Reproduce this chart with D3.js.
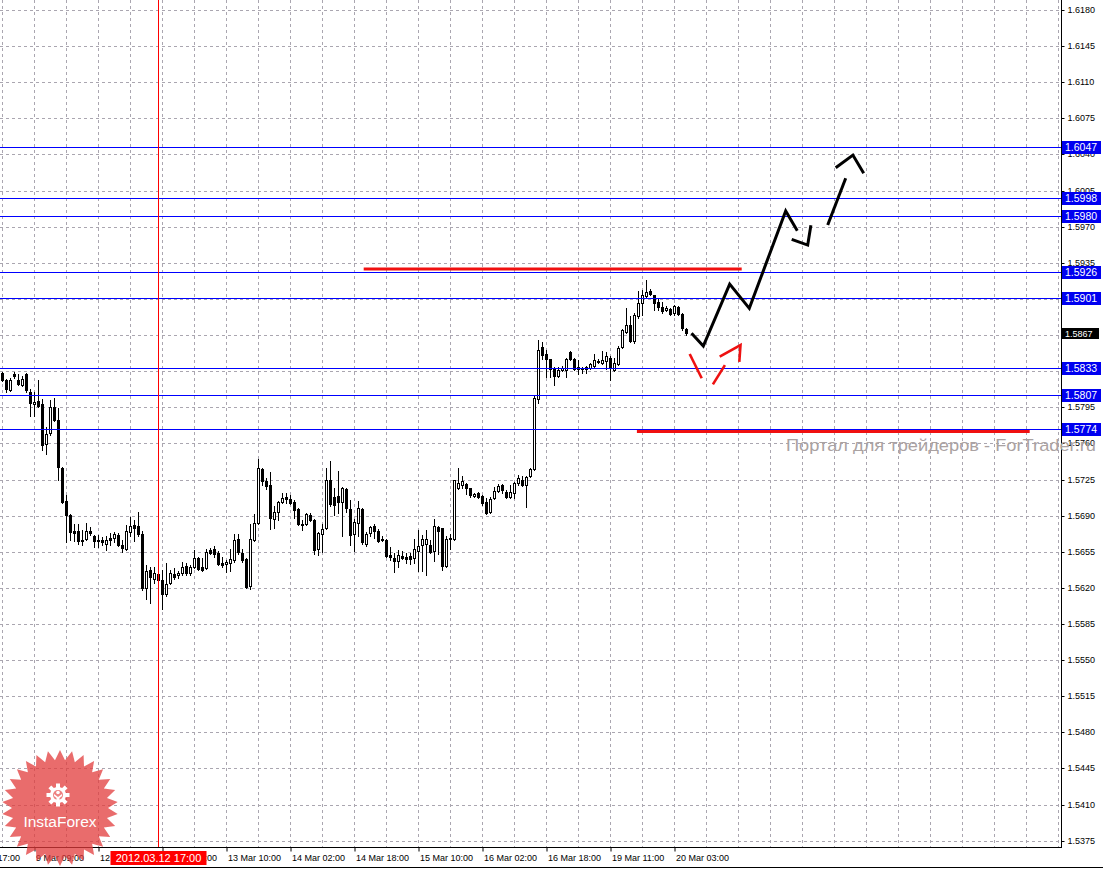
<!DOCTYPE html>
<html><head><meta charset="utf-8">
<script src="https://cdn.jsdelivr.net/npm/d3@7"></script>
<style>body{margin:0;background:#fff;overflow:hidden}svg{display:block;font-family:"Liberation Sans",Arial,sans-serif}</style>
</head><body><svg id="c" width="1103" height="870"></svg>
<script>
// ---- DATA (GBPUSD H1, bar index 1..172) ----
const open = [1.5828,1.5821,1.5812,1.5827,1.5821,1.5817,1.5827,1.5810,1.5798,1.5801,1.5798,1.5759,1.5770,1.5795,1.5783,1.5736,1.5704,1.5691,1.5675,1.5675,1.5665,1.5667,1.5675,1.5670,1.5666,1.5666,1.5663,1.5668,1.5668,1.5671,1.5662,1.5658,1.5674,1.5681,1.5680,1.5672,1.5620,1.5637,1.5629,1.5633,1.5628,1.5614,1.5625,1.5633,1.5632,1.5634,1.5641,1.5634,1.5640,1.5649,1.5640,1.5639,1.5657,1.5658,1.5654,1.5644,1.5643,1.5644,1.5647,1.5667,1.5654,1.5648,1.5622,1.5666,1.5683,1.5735,1.5724,1.5720,1.5687,1.5694,1.5703,1.5708,1.5706,1.5703,1.5696,1.5682,1.5682,1.5691,1.5686,1.5658,1.5672,1.5678,1.5725,1.5708,1.5709,1.5703,1.5716,1.5696,1.5672,1.5683,1.5696,1.5663,1.5673,1.5680,1.5675,1.5667,1.5666,1.5652,1.5649,1.5646,1.5651,1.5650,1.5651,1.5649,1.5656,1.5662,1.5663,1.5662,1.5656,1.5679,1.5678,1.5641,1.5668,1.5667,1.5717,1.5720,1.5721,1.5717,1.5709,1.5712,1.5709,1.5703,1.5694,1.5707,1.5714,1.5720,1.5713,1.5708,1.5712,1.5722,1.5725,1.5720,1.5728,1.5735,1.5803,1.5853,1.5847,1.5842,1.5832,1.5825,1.5831,1.5831,1.5849,1.5842,1.5834,1.5833,1.5832,1.5833,1.5835,1.5839,1.5838,1.5840,1.5843,1.5831,1.5837,1.5853,1.5868,1.5875,1.5859,1.5883,1.5896,1.5903,1.5908,1.5904,1.5897,1.5892,1.5889,1.5890,1.5886,1.5892,1.5885,1.5871];
const high = [1.5829,1.5822,1.5823,1.5829,1.5827,1.5825,1.5828,1.5813,1.5810,1.5821,1.5803,1.5776,1.5802,1.5804,1.5794,1.5737,1.5710,1.5692,1.5682,1.5682,1.5676,1.5683,1.5679,1.5671,1.5671,1.5669,1.5670,1.5673,1.5674,1.5673,1.5666,1.5681,1.5689,1.5686,1.5694,1.5675,1.5642,1.5640,1.5640,1.5635,1.5637,1.5644,1.5637,1.5639,1.5636,1.5645,1.5644,1.5642,1.5657,1.5650,1.5649,1.5658,1.5659,1.5661,1.5656,1.5650,1.5647,1.5658,1.5672,1.5672,1.5658,1.5649,1.5682,1.5692,1.5745,1.5736,1.5726,1.5732,1.5699,1.5704,1.5712,1.5712,1.5710,1.5705,1.5697,1.5686,1.5693,1.5693,1.5687,1.5674,1.5682,1.5736,1.5743,1.5717,1.5733,1.5718,1.5717,1.5705,1.5687,1.5704,1.5697,1.5674,1.5680,1.5682,1.5677,1.5670,1.5667,1.5660,1.5654,1.5657,1.5656,1.5654,1.5654,1.5667,1.5676,1.5671,1.5676,1.5666,1.5687,1.5680,1.5678,1.5670,1.5672,1.5725,1.5736,1.5728,1.5722,1.5717,1.5712,1.5713,1.5710,1.5707,1.5708,1.5718,1.5721,1.5721,1.5715,1.5720,1.5723,1.5729,1.5728,1.5728,1.5736,1.5807,1.5860,1.5858,1.5851,1.5842,1.5834,1.5834,1.5835,1.5843,1.5850,1.5843,1.5841,1.5834,1.5835,1.5838,1.5847,1.5842,1.5850,1.5849,1.5845,1.5843,1.5854,1.5871,1.5891,1.5883,1.5886,1.5908,1.5909,1.5918,1.5910,1.5904,1.5901,1.5897,1.5893,1.5891,1.5894,1.5893,1.5886,1.5872];
const low = [1.5820,1.5810,1.5811,1.5823,1.5817,1.5816,1.5810,1.5787,1.5787,1.5795,1.5754,1.5750,1.5768,1.5782,1.5725,1.5702,1.5664,1.5666,1.5665,1.5663,1.5662,1.5666,1.5671,1.5660,1.5660,1.5662,1.5657,1.5662,1.5664,1.5661,1.5655,1.5657,1.5670,1.5665,1.5670,1.5618,1.5609,1.5605,1.5625,1.5627,1.5600,1.5612,1.5624,1.5629,1.5630,1.5632,1.5632,1.5632,1.5639,1.5637,1.5636,1.5638,1.5653,1.5650,1.5642,1.5640,1.5635,1.5636,1.5645,1.5653,1.5645,1.5620,1.5619,1.5665,1.5682,1.5720,1.5716,1.5677,1.5678,1.5686,1.5702,1.5702,1.5701,1.5688,1.5681,1.5676,1.5681,1.5685,1.5653,1.5652,1.5655,1.5677,1.5699,1.5691,1.5693,1.5670,1.5694,1.5662,1.5656,1.5670,1.5663,1.5661,1.5670,1.5668,1.5664,1.5665,1.5650,1.5647,1.5635,1.5640,1.5648,1.5644,1.5643,1.5644,1.5636,1.5636,1.5632,1.5654,1.5646,1.5653,1.5637,1.5640,1.5658,1.5666,1.5716,1.5717,1.5711,1.5708,1.5708,1.5707,1.5700,1.5692,1.5693,1.5706,1.5713,1.5712,1.5707,1.5707,1.5707,1.5720,1.5719,1.5698,1.5727,1.5734,1.5799,1.5842,1.5824,1.5824,1.5817,1.5824,1.5830,1.5824,1.5841,1.5831,1.5827,1.5828,1.5828,1.5832,1.5834,1.5838,1.5837,1.5832,1.5821,1.5830,1.5836,1.5852,1.5867,1.5858,1.5857,1.5882,1.5884,1.5902,1.5904,1.5889,1.5889,1.5886,1.5888,1.5884,1.5884,1.5884,1.5870,1.5865];
const close = [1.5821,1.5813,1.5821,1.5825,1.5818,1.5822,1.5812,1.5799,1.5800,1.5796,1.5758,1.5769,1.5795,1.5783,1.5737,1.5703,1.5691,1.5674,1.5673,1.5665,1.5666,1.5675,1.5673,1.5665,1.5665,1.5664,1.5666,1.5666,1.5672,1.5662,1.5659,1.5675,1.5680,1.5678,1.5672,1.5620,1.5636,1.5631,1.5634,1.5628,1.5614,1.5624,1.5634,1.5631,1.5634,1.5640,1.5634,1.5640,1.5649,1.5638,1.5637,1.5655,1.5654,1.5653,1.5643,1.5642,1.5645,1.5648,1.5666,1.5655,1.5647,1.5621,1.5667,1.5683,1.5736,1.5724,1.5719,1.5688,1.5694,1.5703,1.5707,1.5706,1.5702,1.5695,1.5682,1.5681,1.5692,1.5686,1.5657,1.5673,1.5677,1.5725,1.5701,1.5700,1.5703,1.5717,1.5697,1.5671,1.5684,1.5697,1.5664,1.5672,1.5679,1.5675,1.5665,1.5666,1.5651,1.5650,1.5646,1.5652,1.5649,1.5648,1.5648,1.5658,1.5661,1.5667,1.5667,1.5655,1.5680,1.5675,1.5641,1.5667,1.5667,1.5725,1.5722,1.5724,1.5717,1.5710,1.5711,1.5708,1.5702,1.5693,1.5706,1.5714,1.5719,1.5715,1.5708,1.5713,1.5722,1.5726,1.5720,1.5727,1.5735,1.5804,1.5851,1.5846,1.5842,1.5832,1.5825,1.5831,1.5833,1.5842,1.5842,1.5832,1.5832,1.5832,1.5834,1.5837,1.5841,1.5840,1.5841,1.5845,1.5833,1.5838,1.5852,1.5870,1.5875,1.5859,1.5884,1.5896,1.5904,1.5907,1.5905,1.5896,1.5892,1.5888,1.5891,1.5885,1.5893,1.5885,1.5872,1.5867];

const priceTicks = [1.6180,1.6145,1.6110,1.6075,1.6040,1.6005,1.5970,1.5935,1.5900,1.5865,1.5830,1.5795,1.5760,1.5725,1.5690,1.5655,1.5620,1.5585,1.5550,1.5515,1.5480,1.5445,1.5410,1.5375];
const labelIndex = [-7,9,25,41,57,73,89,105,121,137,153,169];
const labelText = ["8 Mar 17:00","9 Mar 09:00","12 Mar 01:00","12 Mar 17:00","13 Mar 10:00","14 Mar 02:00","14 Mar 18:00","15 Mar 10:00","16 Mar 02:00","16 Mar 18:00","19 Mar 11:00","20 Mar 03:00"];
const levels = [1.6047,1.5998,1.5980,1.5926,1.5901,1.5833,1.5807,1.5774];
const lastPrice = 1.5867;
const cursorIndex = 40;
const cursorText = "2012.03.12 17:00";
const redLevelPrice = [1.5929, 1.57715];
const redLevelFrom = [91.3, 159.6];
const redLevelTo = [185.8, 257.8];
// forecast sketch: [bar index, price]
const blackPaths = [
  [[173.26,1.58667],[176.2,1.58544],[182.8,1.59144],[187.7,1.58909],[196.8,1.59852],[199.7,1.59661]],
  [[198.3,1.59578],[202.3,1.59522],[203.1,1.59713]],
  [[207.3,1.59716],[211.8,1.60169]],
  [[209.3,1.60271],[213.6,1.60394],[216.3,1.60217]]
];
const redPaths = [
  [[172.8,1.58466],[175.8,1.58231]],
  [[178.6,1.58172],[181.6,1.58359]],
  [[180.3,1.5844],[185.5,1.58553],[185.2,1.58391]]
];
const watermark = "Портал для трейдеров - ForTrader.ru";
const brand = "InstaForex";

// ---- CHART ----
const W = 1103, H = 870, plotR = 1061, plotB = 847;
const svg = d3.select("#c");
const x = d3.scaleLinear().domain([1, 2]).range([2.5, 6.5]);
const y = d3.scaleLinear().domain([1.5375, 1.6180]).range([840.7, 10]);
const py = v => Math.round(y(v)) + 0.5;

svg.append("rect").attr("width", W).attr("height", H).attr("fill", "#fff");
svg.append("defs").append("clipPath").attr("id", "plot")
  .append("rect").attr("x", 0).attr("y", 0).attr("width", plotR).attr("height", plotB);

const g = svg.append("g").attr("clip-path", "url(#plot)");

// grid
const gridColor = "#aaa6b0";
g.selectAll("line.hg").data(priceTicks).join("line")
  .attr("x1", 0).attr("x2", plotR).attr("y1", d => py(d)).attr("y2", d => py(d))
  .attr("stroke", gridColor).attr("stroke-dasharray", "3,3");
const vIdx = d3.range(1, 270, 8);
g.selectAll("line.vg").data(vIdx).join("line")
  .attr("x1", d => x(d)).attr("x2", d => x(d)).attr("y1", 0).attr("y2", plotB)
  .attr("stroke", gridColor).attr("stroke-dasharray", "3,3");

// candles
const bars = d3.range(open.length).map(i => ({i: i + 1, o: open[i], h: high[i], l: low[i], c: close[i]}));
const cg = g.append("g").attr("shape-rendering", "crispEdges");
bars.forEach(b => {
  const xc = x(b.i);
  cg.append("line").attr("x1", xc).attr("x2", xc)
    .attr("y1", Math.round(y(b.h))).attr("y2", Math.round(y(b.l)) + 1)
    .attr("stroke", "#000");
  const top = Math.round(y(Math.max(b.o, b.c)));
  const bot = Math.round(y(Math.min(b.o, b.c)));
  const bull = b.c >= b.o;
  if (!bull || bot - top < 2) {
    cg.append("rect").attr("x", xc - 1.5).attr("y", top).attr("width", 3)
      .attr("height", Math.max(1, bot - top + 1)).attr("fill", "#000");
  } else {
    cg.append("rect").attr("x", xc - 1).attr("y", top + 0.5).attr("width", 2)
      .attr("height", bot - top).attr("fill", "#fff").attr("stroke", "#000");
  }
});

// horizontal levels
g.selectAll("line.lev").data(levels).join("line")
  .attr("x1", 0).attr("x2", plotR).attr("y1", d => py(d)).attr("y2", d => py(d))
  .attr("stroke", "#0000ff");

// cursor vertical line
g.append("line").attr("x1", x(cursorIndex)).attr("x2", x(cursorIndex))
  .attr("y1", 0).attr("y2", plotB).attr("stroke", "#ff0000");

// red horizontal segments
redLevelPrice.forEach((p, k) => {
  g.append("line").attr("x1", x(redLevelFrom[k])).attr("x2", x(redLevelTo[k]))
    .attr("y1", y(p)).attr("y2", y(p)).attr("stroke", "#f01010").attr("stroke-width", 3);
});

// forecast sketches
const ln = d3.line().x(d => x(d[0])).y(d => y(d[1]));
g.selectAll("path.bp").data(blackPaths).join("path")
  .attr("d", ln).attr("fill", "none").attr("stroke", "#000").attr("stroke-width", 3)
  .attr("stroke-linejoin", "miter");
g.selectAll("path.rp").data(redPaths).join("path")
  .attr("d", ln).attr("fill", "none").attr("stroke", "#ee1111").attr("stroke-width", 2.6);

// axes frame
svg.append("line").attr("x1", plotR + 0.5).attr("x2", plotR + 0.5).attr("y1", 0).attr("y2", plotB + 0.5)
  .attr("stroke", "#000");
svg.append("line").attr("x1", 0).attr("x2", plotR + 1).attr("y1", plotB + 0.5).attr("y2", plotB + 0.5)
  .attr("stroke", "#000");
svg.append("line").attr("x1", 0).attr("x2", W).attr("y1", 867.5).attr("y2", 867.5)
  .attr("stroke", "#000");

// right price axis (labels fully hidden behind a level box are left blank, as in the source)
const boxed = levels.concat([lastPrice]);
const hidden = d => boxed.some(v => Math.abs(y(v) - y(d)) < 5);
const ya = svg.append("g").attr("transform", `translate(${plotR + 0.5},0.5)`)
  .call(d3.axisRight(y).tickValues(priceTicks).tickSize(3).tickSizeOuter(0).tickPadding(3)
    .tickFormat(d => hidden(d) ? "" : d3.format(".4f")(d)));
ya.select(".domain").remove();
ya.selectAll("text").attr("font-size", 9).attr("font-family", "Liberation Sans, Arial, sans-serif").attr("fill", "#000");
ya.selectAll(".tick").attr("transform", d => `translate(0,${Math.round(y(d))})`);

// bottom time axis
const xa = svg.append("g").attr("transform", `translate(0,${plotB + 0.5})`)
  .call(d3.axisBottom(x).tickValues(labelIndex).tickSize(4).tickSizeOuter(0)
    .tickFormat((d, i) => labelText[i]));
xa.select(".domain").remove();
xa.selectAll("text").attr("font-size", 9).attr("text-anchor", "start").attr("x", 1)
  .attr("font-family", "Liberation Sans, Arial, sans-serif").attr("fill", "#000");

// level labels
const lbl = svg.append("g");
levels.forEach(v => {
  const yy = Math.round(y(v));
  lbl.append("rect").attr("x", plotR + 1).attr("y", yy - 6).attr("width", 39).attr("height", 13).attr("fill", "#0000f0");
  lbl.append("text").attr("x", plotR + 4).attr("y", yy + 4).attr("fill", "#fff")
    .attr("font-size", 10.5).text(v.toFixed(4));
});
{
  const yy = Math.round(y(lastPrice));
  lbl.append("rect").attr("x", plotR + 1).attr("y", yy - 5).attr("width", 37).attr("height", 11).attr("fill", "#000");
  lbl.append("text").attr("x", plotR + 4).attr("y", yy + 3.5).attr("fill", "#fff")
    .attr("font-size", 9).text(lastPrice.toFixed(4));
}

// cursor time box
{
  const cx = x(cursorIndex);
  svg.append("rect").attr("x", cx - 48).attr("y", 851).attr("width", 96).attr("height", 14).attr("fill", "#ff0000");
  svg.append("text").attr("x", cx).attr("y", 862).attr("text-anchor", "middle").attr("fill", "#fff")
    .attr("font-size", 11).text(cursorText);
}

// watermark
svg.append("text").attr("x", 786).attr("y", 451).attr("fill", "#aaa2a2").attr("font-size", 17)
  .attr("textLength", 310).attr("lengthAdjust", "spacingAndGlyphs").text(watermark);

// InstaForex logo
{
  const lg = svg.append("g").attr("transform", "translate(60,808)");
  const n = 30, ro = 58, ri = 48;
  const pts = d3.range(n * 2).map(k => {
    const a = k * Math.PI / n - Math.PI / 2;
    const r = k % 2 === 0 ? ro : ri;
    return [r * Math.cos(a), r * Math.sin(a)];
  });
  lg.append("path").attr("d", "M" + pts.map(p => p.join(",")).join("L") + "Z")
    .attr("fill", "#e23b3b").attr("opacity", 0.75);
  const gear = lg.append("g").attr("transform", "translate(-2,-13)");
  const teeth = 8;
  d3.range(teeth).forEach(k => {
    gear.append("rect").attr("x", -2).attr("y", -11.5).attr("width", 4).attr("height", 5)
      .attr("fill", "#fff").attr("transform", `rotate(${k * 360 / teeth})`);
  });
  gear.append("circle").attr("r", 8).attr("fill", "#fff");
  gear.append("circle").attr("r", 5).attr("fill", "#ee8282");
  gear.append("circle").attr("cx", 0).attr("cy", -2.5).attr("r", 1.8).attr("fill", "#fff");
  gear.append("path").attr("d", "M-4,-1 L0,2 L4,-1 L4,1 L1.5,3 L1.5,11 L-1.5,11 L-1.5,3 L-4,1 Z").attr("fill", "#fff");
  lg.append("text").attr("x", 0).attr("y", 19).attr("text-anchor", "middle").attr("fill", "#fff")
    .attr("font-size", 15.5).text(brand);
}
</script></body></html>
